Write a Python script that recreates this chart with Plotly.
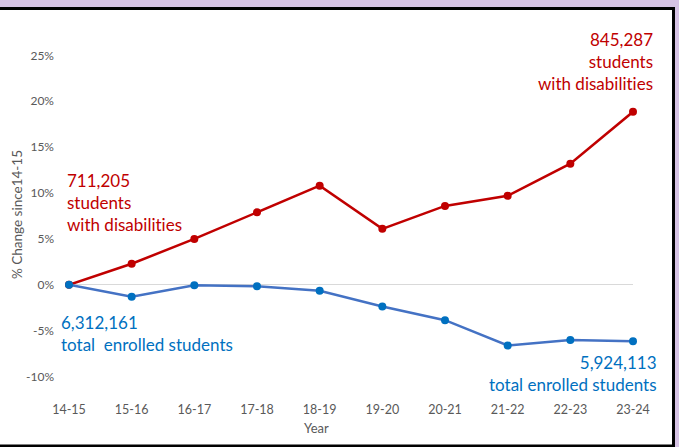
import plotly.graph_objects as go

years = ["14-15", "15-16", "16-17", "17-18", "18-19", "19-20", "20-21", "21-22", "22-23", "23-24"]
swd_pct = [0.0, 2.3, 5.0, 7.9, 10.8, 6.1, 8.6, 9.7, 13.2, 18.85]
total_pct = [0.0, -1.3, -0.05, -0.15, -0.65, -2.35, -3.85, -6.6, -6.0, -6.15]
y_ticks = [-10, -5, 0, 5, 10, 15, 20, 25]
y_tick_text = ["-10%", "-5%", "0%", "5%", "10%", "15%", "20%", "25%"]

RED = "#C00000"
BLUE_LINE = "#4472C4"
BLUE_MK = "#0070C0"
GRAY = "#595959"
FONT = "Lato"

W, H = 679, 447
L, R, T, B = 69, 46, 37, 52
pw, ph = W - L - R, H - T - B

def px_x(px):
    return (px - L) / pw

def px_y(py):
    return (H - B - py) / ph

fig = go.Figure()
fig.add_trace(go.Scatter(x=years, y=swd_pct, mode="lines+markers",
                         line=dict(color=RED, width=2.5),
                         marker=dict(color=RED, size=8), cliponaxis=False,
                         showlegend=False))
fig.add_trace(go.Scatter(x=years, y=total_pct, mode="lines+markers",
                         line=dict(color=BLUE_LINE, width=2.5),
                         marker=dict(color=BLUE_MK, size=8), cliponaxis=False,
                         showlegend=False))

fig.add_shape(type="rect", xref="paper", yref="paper",
              x0=px_x(-20), x1=px_x(673.5), y0=px_y(446), y1=px_y(8.5),
              line=dict(color="black", width=3), fillcolor="white", layer="below")

dis = "with disabilit\u200cies"
ann_font = dict(family=FONT, size=17)
fig.add_annotation(xref="paper", yref="paper", x=px_x(65), y=px_y(202),
                   xanchor="left", yanchor="middle", align="left", showarrow=False,
                   text="711,205<br>students<br>" + dis,
                   font=dict(color=RED, **ann_font))
fig.add_annotation(xref="paper", yref="paper", x=px_x(655), y=px_y(62),
                   xanchor="right", yanchor="middle", align="right", showarrow=False,
                   text="845,287<br>students<br>" + dis,
                   font=dict(color=RED, **ann_font))
fig.add_annotation(xref="paper", yref="paper", x=px_x(59), y=px_y(333),
                   xanchor="left", yanchor="middle", align="left", showarrow=False,
                   text="6,312,161<br>total  enrolled students",
                   font=dict(color=BLUE_MK, **ann_font))
fig.add_annotation(xref="paper", yref="paper", x=px_x(659), y=px_y(373),
                   xanchor="right", yanchor="middle", align="right", showarrow=False,
                   text="5,924,113<br>total enrolled students",
                   font=dict(color=BLUE_MK, **ann_font))
fig.add_annotation(xref="paper", yref="paper", x=px_x(17), y=px_y(215),
                   xanchor="center", yanchor="middle", showarrow=False, textangle=-90,
                   text="% Change since14-15",
                   font=dict(family=FONT, size=13.5, color=GRAY))
fig.add_annotation(xref="paper", yref="paper", x=px_x(316), y=px_y(428),
                   xanchor="center", yanchor="middle", showarrow=False,
                   text="Year", font=dict(family=FONT, size=13, color=GRAY))

fig.update_xaxes(type="category", range=[0, 9], showgrid=False, showline=False,
                 zeroline=False, ticks="", tickfont=dict(family=FONT, size=12.5, color=GRAY),
                 ticklabelstandoff=5)
fig.update_yaxes(range=[-12, 27], tickvals=y_ticks, ticktext=y_tick_text,
                 showgrid=False, zeroline=True, zerolinecolor="#D9D9D9", zerolinewidth=1.2,
                 showline=False, ticks="", ticklabelstandoff=14,
                 tickfont=dict(family=FONT, size=12, color=GRAY))
fig.update_layout(width=W, height=H, margin=dict(l=L, r=R, t=T, b=B, autoexpand=False),
                  paper_bgcolor="#D6C3E4", plot_bgcolor="rgba(0,0,0,0)",
                  font=dict(family=FONT))
fig.write_html("out.html", config={"displayModeBar": False},
               post_script="document.body.style.margin='0';document.body.style.padding='0';document.body.style.overflow='hidden';")
